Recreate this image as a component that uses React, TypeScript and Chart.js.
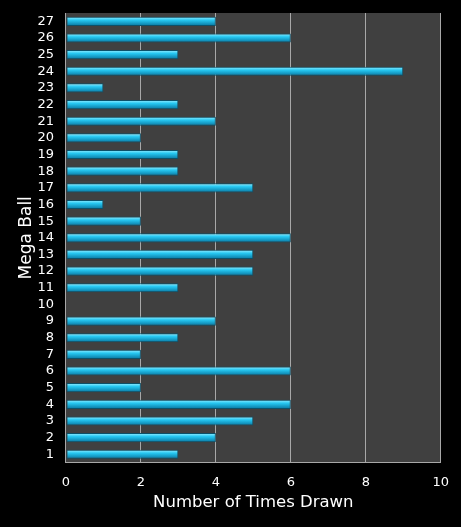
import { useEffect, useRef } from 'react';
import Chart from 'chart.js/auto';

const megaBalls = ['1', '2', '3', '4', '5', '6', '7', '8', '9', '10', '11', '12', '13', '14',
  '15', '16', '17', '18', '19', '20', '21', '22', '23', '24', '25', '26', '27'];
const timesDrawn = [3, 4, 5, 6, 2, 6, 2, 3, 4, 0, 3, 5, 5, 6, 2, 1, 5, 3, 3, 2, 4, 3, 1, 9, 3, 6, 4];

const FONT = '"DejaVu Sans", Verdana, sans-serif';

// dark plot area behind the bars
const plotBackground = {
  id: 'plotBackground',
  beforeDraw(chart: Chart) {
    const { ctx, chartArea } = chart;
    ctx.save();
    ctx.fillStyle = '#404040';
    ctx.fillRect(chartArea.left, chartArea.top, chartArea.right - chartArea.left, chartArea.bottom - chartArea.top);
    ctx.restore();
  },
};

export default function App() {
  const canvasRef = useRef<HTMLCanvasElement>(null);
  const chartRef = useRef<Chart | null>(null);

  useEffect(() => {
    document.body.style.margin = '0';
    document.body.style.background = '#000';
    if (!canvasRef.current) return;
    if (chartRef.current) chartRef.current.destroy();

    chartRef.current = new Chart(canvasRef.current, {
      type: 'bar',
      data: {
        labels: megaBalls,
        datasets: [{
          data: timesDrawn,
          backgroundColor: (context: any) => {
            const chart = context.chart;
            const yScale = chart.scales?.y;
            if (!yScale || context.dataIndex === undefined) return '#1ec4ee';
            const y = yScale.getPixelForValue(context.dataIndex);
            if (!Number.isFinite(y)) return '#1ec4ee';
            const g = chart.ctx.createLinearGradient(0, y - 4, 0, y + 4);
            g.addColorStop(0, '#8aeaff');
            g.addColorStop(0.35, '#27c8f2');
            g.addColorStop(1, '#0a7ea8');
            return g;
          },
          borderColor: '#0d5068',
          borderWidth: 1,
          borderSkipped: false,
          barPercentage: 0.55,
          categoryPercentage: 1,
        }],
      },
      plugins: [plotBackground],
      options: {
        indexAxis: 'y',
        animation: false,
        responsive: true,
        maintainAspectRatio: false,
        layout: { padding: { top: 13, right: 18, bottom: 14, left: 16 } },
        plugins: {
          legend: { display: false },
          tooltip: { enabled: false },
        },
        scales: {
          x: {
            min: 0,
            max: 10,
            ticks: { stepSize: 2, color: '#fff', font: { family: FONT, size: 13 }, padding: 12 },
            grid: { color: '#a8a8a8', drawTicks: false },
            border: { color: '#a8a8a8' },
            title: {
              display: true,
              text: 'Number of Times Drawn',
              color: '#fff',
              font: { family: FONT, size: 16.5 },
              padding: { top: -9, bottom: 0 },
            },
          },
          y: {
            reverse: true,
            // keep the tick padding from pushing the plot top down
            afterFit: (scale: any) => {
              scale.paddingTop = 0;
              scale.paddingBottom = 0;
            },
            ticks: { color: '#fff', font: { family: FONT, size: 13 }, autoSkip: false, padding: 12 },
            grid: { display: false, drawTicks: false },
            border: { color: '#a8a8a8' },
            title: {
              display: true,
              text: 'Mega Ball',
              color: '#fff',
              font: { family: FONT, size: 17 },
              padding: { top: 0, bottom: -11 },
            },
          },
        },
      },
    });

    return () => {
      if (chartRef.current) {
        chartRef.current.destroy();
        chartRef.current = null;
      }
    };
  }, []);

  return (
    <div style={{ width: 461, height: 527, position: 'relative', background: '#000' }}>
      <canvas ref={canvasRef} />
    </div>
  );
}
